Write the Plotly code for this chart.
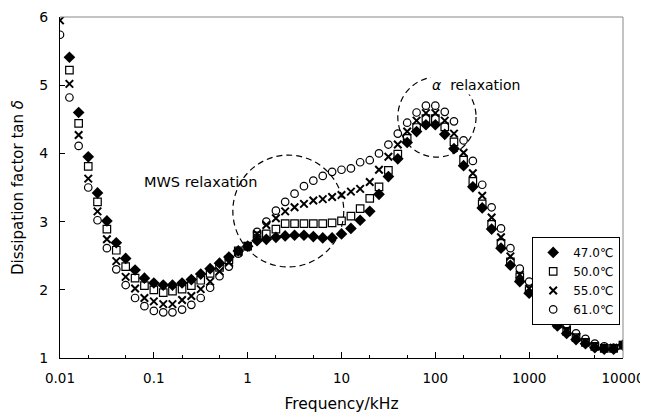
import plotly.graph_objects as go

# Frequency (kHz)
freq = [0.01, 0.0126, 0.0158, 0.02, 0.0251, 0.0316, 0.0398, 0.0501, 0.0631, 0.0794,
        0.1, 0.126, 0.158, 0.2, 0.251, 0.316, 0.398, 0.501, 0.631, 0.794,
        1, 1.26, 1.58, 2, 2.51, 3.16, 3.98, 5.01, 6.31, 7.94,
        10, 12.6, 15.8, 20, 25.1, 31.6, 39.8, 50.1, 63.1, 79.4,
        100, 126, 158, 200, 251, 316, 398, 501, 631, 794,
        1000, 1260, 1580, 2000, 2510, 3160, 3980, 5010, 6310, 7940, 10000]

t47 = [None, 5.41, 4.60, 3.95, 3.42, 3.01, 2.69, 2.46, 2.29, 2.17,
       2.10, 2.07, 2.07, 2.10, 2.15, 2.23, 2.31, 2.39, 2.48, 2.57,
       2.64, 2.72, 2.74, 2.77, 2.79, 2.80, 2.80, 2.78, 2.76, 2.76,
       2.82, 2.90, 3.02, 3.15, 3.40, 3.66, 3.92, 4.16, 4.32, 4.42,
       4.42, 4.28, 4.07, 3.82, 3.51, 3.20, 2.89, 2.61, 2.36, 2.12,
       1.95, 1.76, 1.61, 1.47, 1.36, 1.27, 1.21, 1.15, 1.13, 1.13, 1.19]

t50 = [None, 5.22, 4.44, 3.81, 3.29, 2.89, 2.58, 2.34, 2.17, 2.06,
       2.00, 1.96, 1.98, 2.01, 2.06, 2.14, 2.24, 2.33, 2.44, 2.57,
       2.64, 2.79, 2.82, 2.89, 2.97, 2.97, 2.97, 2.97, 2.97, 2.98,
       3.01, 3.08, 3.19, 3.34, 3.51, 3.75, 3.99, 4.22, 4.38, 4.51,
       4.51, 4.39, 4.17, 3.90, 3.59, 3.26, 2.96, 2.68, 2.41, 2.19,
       1.99, 1.80, 1.65, 1.50, 1.39, 1.30, 1.23, 1.17, 1.14, 1.14, 1.19]

t55 = [5.95, 5.02, 4.27, 3.63, 3.15, 2.74, 2.42, 2.19, 2.02, 1.88,
       1.83, 1.79, 1.79, 1.85, 1.91, 2.01, 2.12, 2.27, 2.40, 2.55,
       2.64, 2.82, 2.95, 3.05, 3.15, 3.21, 3.26, 3.31, 3.33, 3.36,
       3.39, 3.44, 3.48, 3.58, 3.76, 3.95, 4.13, 4.32, 4.48, 4.59,
       4.59, 4.48, 4.29, 4.01, 3.71, 3.38, 3.06, 2.77, 2.49, 2.22,
       2.02, 1.83, 1.67, 1.53, 1.41, 1.31, 1.24, 1.18, 1.15, 1.15, 1.19]

t61 = [5.74, 4.82, 4.11, 3.50, 3.02, 2.61, 2.30, 2.07, 1.88, 1.76,
       1.69, 1.67, 1.67, 1.71, 1.78, 1.88, 2.03, 2.20, 2.34, 2.53,
       2.63, 2.85, 3.00, 3.16, 3.29, 3.41, 3.52, 3.60, 3.67, 3.73,
       3.76, 3.78, 3.87, 3.90, 4.00, 4.13, 4.29, 4.45, 4.60, 4.70,
       4.70, 4.61, 4.47, 4.19, 3.89, 3.54, 3.21, 2.90, 2.61, 2.31,
       2.12, 1.90, 1.73, 1.58, 1.46, 1.36, 1.28, 1.21, 1.17, 1.15, 1.19]

series_names = ["47.0℃", "50.0℃", "55.0℃", "61.0℃"]
x_tickvals = [0.01, 0.1, 1, 10, 100, 1000, 10000]
x_ticktext = ["0.01", "0.1", "1", "10", "100", "1000", "10000"]

FONT = "DejaVu Sans, Verdana, sans-serif"

fig = go.Figure()
styles = [
    dict(symbol="diamond", size=9, color="black", line=dict(width=0)),
    dict(symbol="square-open", size=7.5, color="black", line=dict(width=1.2)),
    dict(symbol="x-thin-open", size=7.5, color="black", line=dict(width=2)),
    dict(symbol="circle-open", size=7.5, color="black", line=dict(width=1.2)),
]
for name, ys, st in zip(series_names, [t47, t50, t55, t61], styles):
    fig.add_trace(go.Scatter(x=freq, y=ys, mode="markers", name=name, marker=st))

dash_line = dict(color="black", width=1.2, dash="6px,4px")
fig.add_shape(type="circle", xref="paper", yref="paper",
              x0=0.307, x1=0.504, y0=0.267, y1=0.595, line=dash_line, layer="below")
fig.add_shape(type="circle", xref="paper", yref="paper",
              x0=0.600, x1=0.739, y0=0.589, y1=0.824, line=dash_line, layer="below")
# top and right frame lines (light)
fig.add_shape(type="line", xref="paper", yref="paper", x0=0, x1=1, y0=1, y1=1,
              line=dict(color="#888", width=1))
fig.add_shape(type="line", xref="paper", yref="paper", x0=1, x1=1, y0=0, y1=1,
              line=dict(color="#888", width=1))

fig.add_annotation(text="MWS relaxation", xref="paper", yref="paper",
                   x=0.249, y=0.516, xanchor="center", yanchor="middle", showarrow=False,
                   font=dict(family=FONT, size=14.5, color="black"))
fig.add_annotation(text="<i>α</i>  relaxation", xref="paper", yref="paper",
                   x=0.739, y=0.80, xanchor="center", yanchor="middle", showarrow=False,
                   bgcolor="white",
                   font=dict(family=FONT, size=14, color="black"))

# page body has an 8px default margin: figure is sized/offset to compensate
fig.update_layout(
    width=640, height=412,
    margin=dict(l=52, r=25, t=9, b=62),
    paper_bgcolor="white", plot_bgcolor="white",
    font=dict(family=FONT, size=13, color="black"),
    showlegend=True,
    legend=dict(x=0.995, y=0.355, xanchor="right", yanchor="top",
                bordercolor="black", borderwidth=1, bgcolor="white",
                font=dict(family=FONT, size=12), itemwidth=30,
                tracegroupgap=0),
    xaxis=dict(type="log", range=[-2, 4], tickvals=x_tickvals, ticktext=x_ticktext,
               ticks="inside", ticklen=6, tickcolor="black",
               tickfont=dict(family=FONT, size=13.5),
               ticklabelstandoff=8, automargin=False,
               minor=dict(ticks="inside", ticklen=3, tickcolor="black"),
               showline=True, linecolor="black", linewidth=1,
               showgrid=False, zeroline=False,
               title=dict(text="Frequency/kHz", standoff=12,
                          font=dict(family=FONT, size=15.5))),
    yaxis=dict(range=[1, 6], dtick=1, ticks="inside", ticklen=5, tickcolor="black",
               tickfont=dict(family=FONT, size=14),
               ticklabelstandoff=8, automargin=False,
               showline=True, linecolor="black", linewidth=1,
               showgrid=False, zeroline=False,
               title=dict(text="Dissipation factor tan <i>δ</i>", standoff=12,
                          font=dict(family=FONT, size=15))),
)

fig.write_html("out.html")
